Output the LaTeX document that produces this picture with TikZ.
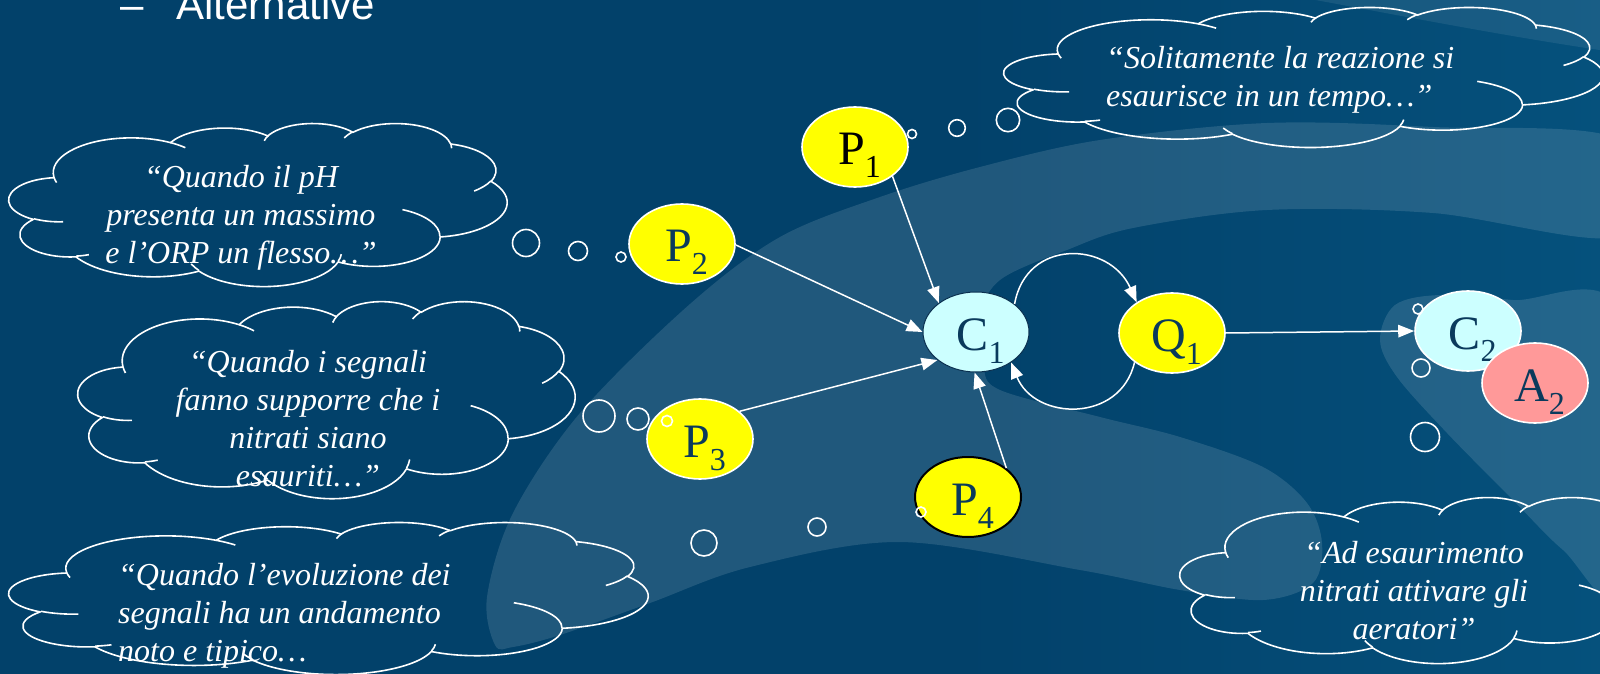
\documentclass[tikz,border=0pt]{standalone}
\usepackage{fontspec}
\setmainfont{Liberation Serif}
\newfontfamily\titlefont{Liberation Sans}
\usetikzlibrary{arrows.meta,shapes.geometric}
\definecolor{bgdark}{HTML}{02416A}
\definecolor{bgright}{HTML}{0A6593}
\definecolor{nodeyellow}{HTML}{FFFF00}
\definecolor{nodecyan}{HTML}{CCFFFF}
\definecolor{nodepink}{HTML}{FF9999}
\definecolor{labelnavy}{HTML}{0A3A5C}
\definecolor{cborder}{HTML}{0B3050}
\pgfdeclarehorizontalshading{bgshade}{100bp}{color(0bp)=(bgdark); color(55bp)=(bgdark); color(100bp)=(bgright)}
\tikzset{
  cloudline/.style={draw=white,line width=1.6pt,line join=round},
  arr/.style={draw=white,line width=1.5pt,-{Triangle[length=16pt,width=12.5pt]}},
  basenode/.style={ellipse,minimum width=106pt,minimum height=80pt,inner sep=0pt,
    line width=1.6pt,text=labelnavy,text height=36pt,text depth=0pt,
    font=\fontsize{48}{48}\selectfont},
  pnode/.style={basenode,fill=nodeyellow,draw=white},
  cnode/.style={basenode,fill=nodecyan,draw=white},
  anode/.style={basenode,fill=nodepink,draw=white},
  bubble/.style={circle,draw=white,line width=1.6pt,inner sep=0pt},
  cloudtext/.style={text=white,inner sep=0pt,font=\fontsize{32}{38}\selectfont\itshape},
  swoosh/.style={fill=white,fill opacity=0.12}
}
\newcommand\lbl[2]{\hspace*{9pt}#1\raisebox{-13pt}{\fontsize{32}{32}\selectfont#2}}
\def\carc#1#2#3#4{arc[start angle={atan2(#1*sin(#3),#2*cos(#3))},delta angle={mod(atan2(#1*sin(#3+#4),#2*cos(#3+#4))-atan2(#1*sin(#3),#2*cos(#3))+720,360)},x radius=#1pt,y radius=#2pt]}
\newcommand\drawcloud[4]{%
\begin{scope}[shift={(#1,#2)},xscale=#3/43.2,yscale=-#4/43.2]
\draw[cloudline] (3.900pt,14.370pt)
 \carc{6.753}{9.190}{-190.4875}{123.7805}
 \carc{5.333}{7.267}{-144.1024}{89.9452}
 \carc{4.365}{5.945}{-145.8079}{99.7230}
 \carc{4.857}{6.595}{-130.9861}{117.2417}
 \carc{5.333}{7.273}{-78.7089}{109.0269}
 \carc{6.775}{9.220}{-46.2673}{130.2690}
 \carc{5.785}{7.867}{0.6250}{114.0333}
 \carc{6.752}{9.215}{22.4516}{115.1726}
 \carc{7.720}{10.543}{66.2426}{75.7110}
 \carc{4.360}{5.918}{-274.9421}{146.7356}
 \carc{4.345}{5.945}{-246.8285}{152.5189} -- cycle;
\draw[cloudline]
 (4.693pt,26.177pt) \carc{4.345}{5.945}{86.7420}{26.4295}
 (6.928pt,34.899pt) \carc{4.360}{5.918}{73.6105}{11.4475}
 (16.478pt,39.090pt) \carc{6.752}{9.215}{137.6242}{14.0811}
 (28.827pt,34.751pt) \carc{6.752}{9.215}{6.4533}{15.9984}
 (34.129pt,22.954pt) \carc{5.785}{7.867}{-70.2924}{70.9174}
 (41.798pt,15.354pt) \carc{5.333}{7.273}{30.3180}{27.7515}
 (38.324pt,5.426pt) \carc{4.857}{6.595}{-13.7443}{14.8589}
 (29.078pt,3.952pt) \carc{4.857}{6.595}{-149.1815}{18.1954}
 (22.141pt,4.720pt) \carc{4.365}{5.945}{-163.4943}{17.6864}
 (14.000pt,5.192pt) \carc{6.753}{9.190}{-66.7070}{12.3194}
 (4.127pt,15.789pt) \carc{6.753}{9.190}{157.6544}{11.8582};
\end{scope}}
\begin{document}
\begin{tikzpicture}[x=1pt,y=1pt]
\clip (0,0) rectangle (1600,673);
\shade[shading=bgshade] (0,0) rectangle (1600,673);
% background swooshes
\fill[swoosh] plot[smooth cycle,tension=0.55] coordinates {
 (495,28) (487,76) (513,160) (580,260) (690,369) (780,436) (880,476) (980,506)
 (1100,533) (1267,550) (1433,546) (1620,533) (1620,437) (1433,460) (1267,463)
 (1133,445) (1067,423) (1000,393) (978,353) (983,308) (1000,283) (1100,256)
 (1180,236) (1263,206) (1307,170) (1322,130) (1313,90) (1263,73) (1180,83)
 (1080,103) (900,131) (750,106) (650,70) (560,38) (513,26)};
\fill[swoosh] plot[smooth cycle,tension=0.55] coordinates {
 (1380,333) (1395,368) (1440,378) (1513,373) (1620,361) (1620,83) (1563,123)
 (1513,173) (1447,240) (1397,296)};
\fill[fill=white,fill opacity=0.08] (1220,690) .. controls (1350,668) and (1480,640) .. (1620,620) -- (1620,690) -- cycle;
% title
\node[anchor=base west,inner sep=0pt,text=white,font=\titlefont\fontsize{42}{50}\selectfont]
 (title) at (120,653) {–\hspace{33pt}Alternative};
% clouds
\drawcloud{9}{550}{498}{163}
\drawcloud{78}{372}{497}{197}
\drawcloud{9}{151}{639}{152}
\drawcloud{1004}{666}{599}{140}
\drawcloud{1180}{176}{505}{166}
\node[cloudtext,anchor=north,align=center] (t1) at (241,512.6)
 {\strut“Quando il pH\\\strut presenta un massimo\\\strut e l’ORP un flesso…”};
\node[cloudtext,anchor=north,align=center] (t2) at (308,327.6)
 {\strut“Quando i segnali\\\strut fanno supporre che i\\\strut nitrati siano\\\strut esauriti…”};
\node[cloudtext,anchor=north west,align=left] (t3) at (118,114.6)
 {\strut“Quando l’evoluzione dei\\\strut segnali ha un andamento\\\strut noto e tipico…};
\node[cloudtext,anchor=north west,align=left] (t4) at (1106,631.6)
 {\strut“Solitamente la reazione si\\\strut esaurisce in un tempo…”};
\node[cloudtext,anchor=north,align=center] (t5) at (1414,136.6)
 {\strut“Ad esaurimento\\\strut nitrati attivare gli\\\strut aeratori”};
% nodes
\node[pnode,text=black] (P1) at (855,526) {\lbl{P}{1}};
\node[pnode] (P2) at (682,429) {\lbl{P}{2}};
\node[cnode,draw=cborder,line width=1pt] (C1) at (976,341) {\lbl{C}{1}};
\node[pnode] (P3) at (700,234) {\lbl{P}{3}};
\node[pnode,draw=black,line width=2pt] (P4) at (968,176) {\lbl{P}{4}};
\node[pnode] (Q1) at (1172,340) {\lbl{Q}{1}};
\node[cnode] (C2) at (1468,342) {\lbl{C}{2}};
\node[anode] (A2) at (1535,290) {\lbl{A}{2}};
% connectors
\draw[arr] (P1.-38) -- (C1.142);
\draw[arr] (P2.-1) -- (C1.180);
\draw[arr] (P3.35) -- (C1.216);
\draw[arr] (P4.37) -- (C1.268);
\draw[arr] (C1.36) to[out=80,in=114,looseness=1.4] (Q1.139);
\draw[arr] (Q1.218) to[out=257,in=-68,looseness=1.3] (C1.319);
\draw[arr] (Q1.east) -- (C2.west);
% thought bubbles
\node[bubble,minimum size=27pt] (b1) at (526,430) {};
\node[bubble,minimum size=19pt] (b2) at (578,422) {};
\node[bubble,minimum size=10pt] (b3) at (621,416) {};
\node[bubble,minimum size=9pt] (b4) at (912,539) {};
\node[bubble,minimum size=16.6pt] (b5) at (957,545) {};
\node[bubble,minimum size=23.4pt] (b6) at (1008,553) {};
\node[bubble,minimum size=32pt] (b7) at (599,257) {};
\node[bubble,minimum size=22pt] (b8) at (638,254) {};
\node[bubble,minimum size=11pt] (b9) at (667,252) {};
\node[bubble,minimum size=26pt] (b10) at (704,130) {};
\node[bubble,minimum size=18pt] (b11) at (817,146) {};
\node[bubble,minimum size=10pt] (b12) at (921,161) {};
\node[bubble,minimum size=10pt] (b13) at (1418,364) {};
\node[bubble,minimum size=18pt] (b14) at (1421,305) {};
\node[bubble,minimum size=29pt] (b15) at (1425,236) {};
\end{tikzpicture}
\end{document}
